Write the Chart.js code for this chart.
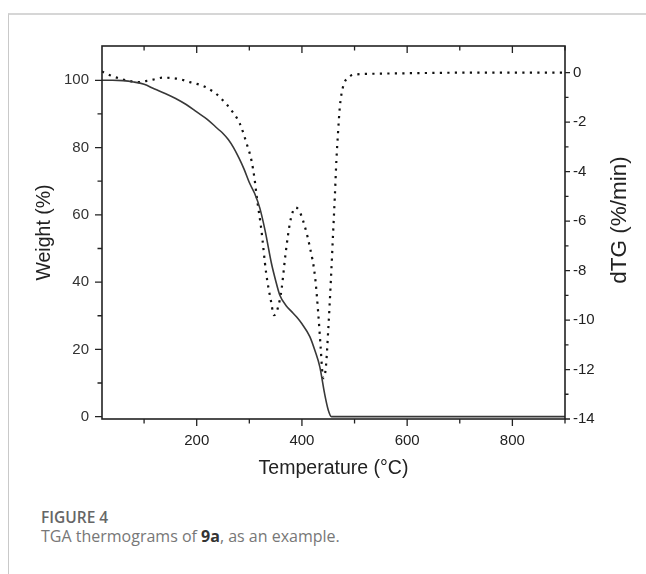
<!DOCTYPE html>
<html>
<head>
<meta charset="utf-8">
<script src="https://cdn.jsdelivr.net/npm/chart.js@4.4.1/dist/chart.umd.min.js"></script>
<style>
  html, body { margin: 0; padding: 0; background: #fff; }
  #wrap { position: relative; width: 646px; height: 574px; overflow: hidden; }
  #box { position: absolute; left: 8px; top: 13px; right: -4px; bottom: -4px;
         border-top: 2px solid #d6d6d6; border-left: 1px solid #c9c9c9; }
  #cv { position: absolute; left: 0; top: 0; }
  .cap1 { position: absolute; left: 41px; top: 510px; font: 600 15.5px/15.5px "Open Sans", sans-serif; color: #666; white-space: nowrap; }
  .cap2 { position: absolute; left: 41px; top: 527.5px; font: 400 16px/16px "Open Sans", sans-serif; color: #777; white-space: nowrap; }
  .cap2 b { color: #333; font-weight: 700; }
</style>
</head>
<body>
<div id="wrap">
  <div id="box"></div>
  <canvas id="cv" width="646" height="490"></canvas>
  <div class="cap1">FIGURE 4</div>
  <div class="cap2">TGA thermograms of <b>9a</b>, as an example.</div>
</div>
<script>
// ---- Data ----
// Weight (%) curve (solid, left axis)
const weightTemp = [20, 40, 60, 80, 100, 120, 140, 160, 180, 200, 220, 240, 250, 260, 270, 280, 290, 300, 310, 320, 330, 342, 350, 358, 370, 380, 390, 400, 415, 425, 434, 443, 450, 456, 500, 600, 700, 800, 900];
const weightVals = [100, 100, 99.9, 99.5, 98.8, 97.4, 96.1, 94.6, 92.8, 90.6, 88.4, 85.6, 84.2, 82.4, 80.0, 77.0, 73.6, 69.6, 66.4, 62.0, 55.3, 45.6, 40.5, 36.1, 33.0, 31.3, 29.6, 27.6, 23.8, 19.5, 14.8, 6.9, 2.0, 0, 0, 0, 0, 0, 0];

// dTG (%/min) curve (dotted, right axis)
const dtgTemp = [20, 35, 54, 73, 92, 105, 117, 136, 150, 162, 175, 187, 200, 209, 219, 228, 238, 250, 266, 282, 295, 304, 310, 314, 323, 332, 342, 346.5, 350, 355, 361, 369, 377, 383, 388, 394, 402, 415, 425, 431, 435.5, 439, 441, 445.5, 450, 455, 459.5, 462.5, 465.5, 468.5, 472, 478, 491, 503, 541, 605, 700, 800, 900];
const dtgVals = [0.05, -0.1, -0.24, -0.34, -0.38, -0.33, -0.28, -0.2, -0.21, -0.24, -0.3, -0.38, -0.45, -0.51, -0.6, -0.72, -0.87, -1.12, -1.52, -2.06, -2.87, -3.54, -4.3, -5.0, -6.37, -8.1, -9.33, -9.8, -9.75, -9.45, -8.8, -7.3, -6.1, -5.6, -5.45, -5.55, -5.97, -7.04, -8.26, -9.73, -11.08, -12.16, -12.35, -11.9, -10.4, -8.4, -6.37, -5.02, -3.54, -2.46, -1.39, -0.58, -0.15, -0.07, -0.04, -0.02, 0, 0, 0];

// Tick values / labels
const xLabelTicks = [200, 400, 600, 800];
const xMinorTicks = [100, 300, 500, 700, 900];
const weightLabelTicks = [0, 20, 40, 60, 80, 100];
const weightMinorTicks = [10, 30, 50, 70, 90];
const dtgLabelTicks = [0, -2, -4, -6, -8, -10, -12, -14];
const dtgMinorTicks = [-1, -3, -5, -7, -9, -11, -13];

const xTitle = 'Temperature (°C)';
const leftTitle = 'Weight (%)';
const rightTitle = 'dTG (%/min)';

// ---- Chart ----
const FONT = "'Liberation Sans', Arial, sans-serif";
const AXIS = '#222';

const framePlugin = {
  id: 'frame',
  afterDraw(chart) {
    const ctx = chart.ctx;
    const a = chart.chartArea;
    const xs = chart.scales.x, yl = chart.scales.y, yr = chart.scales.y2;
    ctx.save();
    ctx.strokeStyle = AXIS;
    ctx.lineWidth = 1.6;
    ctx.strokeRect(a.left, a.top, a.right - a.left, a.bottom - a.top);
    ctx.lineWidth = 1.3;
    const MAJ = 7, MIN = 4.5;
    ctx.beginPath();
    const xt = (v, len) => {
      const px = xs.getPixelForValue(v);
      ctx.moveTo(px, a.bottom); ctx.lineTo(px, a.bottom + len);
      ctx.moveTo(px, a.top); ctx.lineTo(px, a.top + len);
    };
    xLabelTicks.forEach(v => xt(v, MAJ));
    xMinorTicks.forEach(v => xt(v, MIN));
    const ylt = (v, len) => {
      const py = yl.getPixelForValue(v);
      ctx.moveTo(a.left, py); ctx.lineTo(a.left - len, py);
    };
    weightLabelTicks.forEach(v => ylt(v, MAJ));
    weightMinorTicks.forEach(v => ylt(v, MIN));
    const yrt = (v, len) => {
      const py = yr.getPixelForValue(v);
      ctx.moveTo(a.right, py); ctx.lineTo(a.right + len, py);
    };
    dtgLabelTicks.forEach(v => yrt(v, 5));
    dtgMinorTicks.forEach(v => yrt(v, 3.5));
    ctx.stroke();

    // right axis title, reading bottom-to-top
    ctx.fillStyle = AXIS;
    ctx.font = "22.5px " + FONT;
    ctx.textAlign = 'center';
    ctx.textBaseline = 'middle';
    ctx.translate(620, 220);
    ctx.rotate(-Math.PI / 2);
    ctx.fillText(rightTitle, 0, 0);
    ctx.restore();
  }
};

const noGrid = { display: false, drawTicks: false, drawOnChartArea: false };

new Chart(document.getElementById('cv'), {
  type: 'line',
  data: {
    datasets: [
      {
        label: 'Weight',
        data: weightTemp.map((t, i) => ({ x: t, y: weightVals[i] })),
        yAxisID: 'y',
        borderColor: '#383838',
        borderWidth: 1.6,
        pointRadius: 0,
        cubicInterpolationMode: 'monotone',
        fill: false
      },
      {
        label: 'dTG',
        data: dtgTemp.map((t, i) => ({ x: t, y: dtgVals[i] })),
        yAxisID: 'y2',
        borderColor: '#111',
        borderWidth: 2.2,
        borderDash: [2.2, 5.3],
        borderCapStyle: 'butt',
        pointRadius: 0,
        cubicInterpolationMode: 'monotone',
        fill: false
      }
    ]
  },
  options: {
    responsive: false,
    animation: false,
    devicePixelRatio: 1,
    layout: { padding: { top: 46, left: 0, right: 0, bottom: 0 } },
    plugins: { legend: { display: false }, tooltip: { enabled: false } },
    scales: {
      x: {
        type: 'linear', position: 'bottom', min: 20, max: 900,
        grid: noGrid, border: { display: false },
        afterBuildTicks: s => { s.ticks = xLabelTicks.map(v => ({ value: v })); },
        afterFit: s => { s.height = 71; },
        ticks: { padding: 13, color: '#222', font: { family: FONT, size: 15 }, maxRotation: 0 },
        title: { display: true, text: xTitle, color: AXIS, font: { family: FONT, size: 19.5 }, padding: { top: 0, bottom: 10 } }
      },
      y: {
        type: 'linear', position: 'left', min: -0.7, max: 110.2,
        grid: noGrid, border: { display: false },
        afterBuildTicks: s => { s.ticks = weightLabelTicks.map(v => ({ value: v })); },
        afterFit: s => { s.width = 102; },
        ticks: { padding: 13, color: '#333', font: { family: FONT, size: 15 } },
        title: { display: true, text: leftTitle, color: AXIS, font: { family: FONT, size: 19.5 }, padding: { top: 33.3, bottom: 0 } }
      },
      y2: {
        type: 'linear', position: 'right', min: -14, max: 1.08,
        grid: noGrid, border: { display: false },
        afterBuildTicks: s => { s.ticks = dtgLabelTicks.map(v => ({ value: v })); },
        afterFit: s => { s.width = 81; },
        ticks: { padding: 8, color: '#222', font: { family: FONT, size: 15 } },
        title: { display: false }
      }
    }
  },
  plugins: [framePlugin]
});
</script>
</body>
</html>
